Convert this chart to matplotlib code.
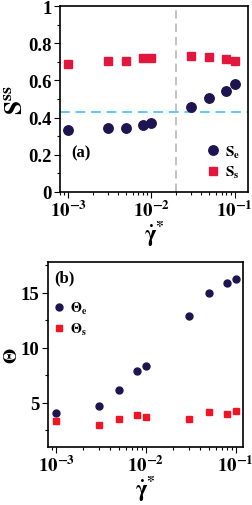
import matplotlib
matplotlib.use("Agg")
import math
import matplotlib.pyplot as plt
from matplotlib.ticker import FixedLocator, MultipleLocator, FuncFormatter, LogLocator, NullFormatter

plt.rcParams['font.family'] = ['Liberation Serif', 'DejaVu Serif']
plt.rcParams['font.weight'] = 'bold'
plt.rcParams['mathtext.fontset'] = 'stix'

rate = [0.001, 0.003, 0.005, 0.008, 0.01, 0.03, 0.05, 0.08, 0.1]
S_e = [0.333, 0.342, 0.343, 0.362, 0.371, 0.455, 0.505, 0.545, 0.579]
S_s = [0.686, 0.704, 0.704, 0.719, 0.719, 0.731, 0.724, 0.713, 0.704]
Theta_e = [4.09, 4.75, 6.13, 7.91, 8.33, 12.87, 15.0, 15.9, 16.24]
Theta_s = [3.33, 2.96, 3.54, 3.90, 3.69, 3.51, 4.15, 3.94, 4.30]
x_ticks = [1e-3, 1e-2, 1e-1]
crit_rate = 0.02
S_crit = 0.428

navy = '#1e1450'
crimson = '#e3173e'
red = '#f01424'

fig = plt.figure(figsize=(2.53, 5.06), dpi=100)
ax1 = fig.add_axes([0.237, 0.619, 0.743, 0.367])
ax2 = fig.add_axes([0.190, 0.115, 0.770, 0.365])

def logfmt(v, pos):
    e = int(round(math.log10(v)))
    return r'$\mathbf{10^{%d}}$' % e

for ax in (ax1, ax2):
    ax.set_xscale('log')
    ax.xaxis.set_major_locator(FixedLocator(x_ticks))
    ax.xaxis.set_major_formatter(FuncFormatter(logfmt))
    ax.xaxis.set_minor_locator(LogLocator(base=10, subs=range(2, 10)))
    ax.xaxis.set_minor_formatter(NullFormatter())
    ax.tick_params(which='both', direction='out', top=False, right=False, labelsize=13.5, width=0.8)
    ax.tick_params(which='major', length=4, pad=2)
    ax.tick_params(which='minor', length=2.5)
    for s in ax.spines.values():
        s.set_linewidth(1.2)
    ax.set_xlabel(r'$\mathbf{\dot{\gamma}^{*}}$', fontsize=16, labelpad=-2)

# Top panel
ax1.set_xlim(8.0e-4, 0.145)
ax1.set_ylim(0, 1)
ax1.yaxis.set_major_locator(MultipleLocator(0.2))
ax1.yaxis.set_minor_locator(MultipleLocator(0.1))
ax1.yaxis.set_major_formatter(FuncFormatter(lambda v, p: '0' if abs(v) < 1e-9 else ('1' if abs(v-1) < 1e-9 else '%.1f' % v)))
ax1.axvline(crit_rate, color='#b8b8b8', ls=(0, (5, 3)), lw=1.2, zorder=1)
ax1.axhline(S_crit, color='#5ec8f2', ls=(0, (5, 3)), lw=1.4, zorder=1)
ax1.plot(rate, S_e, 'o', color=navy, ms=6.8, ls='none', label=r'$\mathbf{S_e}$', zorder=3)
ax1.plot(rate, S_s, 's', color=crimson, ms=6.0, ls='none', label=r'$\mathbf{S_s}$', zorder=3)
ax1.set_ylabel(r'$\mathbf{S^{ss}}$', fontsize=18, labelpad=1)
ax1.text(0.06, 0.21, '(a)', transform=ax1.transAxes, fontsize=12, fontweight='bold', va='center', ha='left')
ax1.legend(loc='lower right', frameon=False, fontsize=11, handletextpad=0.3, borderpad=0.3,
           labelspacing=0.3, handlelength=1.0, borderaxespad=0.2, bbox_to_anchor=(1.0, 0.02))

# Bottom panel
ax2.set_xlim(8.1e-4, 0.12)
ax2.set_ylim(1, 17.8)
ax2.yaxis.set_major_locator(MultipleLocator(5))
ax2.yaxis.set_minor_locator(MultipleLocator(2.5))
ax2.plot(rate, Theta_e, 'o', color=navy, ms=5.0, ls='none', label=r'$\mathbf{\Theta_e}$', zorder=3)
ax2.plot(rate, Theta_s, 's', color=red, ms=4.5, ls='none', label=r'$\mathbf{\Theta_s}$', zorder=3)
ax2.set_ylabel(r'$\mathbf{\Theta}$', fontsize=14, labelpad=0)
ax2.text(0.03, 0.92, '(b)', transform=ax2.transAxes, fontsize=12, fontweight='bold', va='center', ha='left')
ax2.legend(loc='upper left', frameon=False, fontsize=10, handletextpad=0.3, borderpad=0.2,
           labelspacing=0.35, handlelength=1.0, borderaxespad=0.1, bbox_to_anchor=(0.0, 0.82))

fig.savefig('out.png', dpi=100)
